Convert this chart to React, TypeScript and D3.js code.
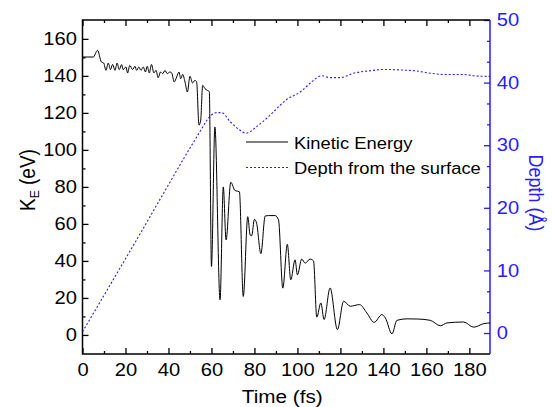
import React, { useEffect, useRef } from 'react';
import * as d3 from 'd3';

// kinetic energy (eV) vs time (fs)
const keTime = [0, 5, 7, 8.8, 9.9, 10.9, 12.0, 13.0, 14.0, 15.1, 16.1, 17.1, 18.2, 18.9, 20.2, 21.0, 22.0, 23.3, 24.4, 25.2,
  26.2, 27.2, 28.3, 29.3, 30.1, 31.1, 32.1, 33.2, 34.2, 35.2, 36.3, 37.3, 38.4, 39.4, 40.7, 41.5, 42.7, 43.8, 44.9, 45.7,
  46.6, 47.7, 48.8, 50.0, 51.2, 52.3, 53.1, 54.2, 55.0, 55.9, 57.0, 58.1, 59.0, 60.0, 61.6, 64.0, 65.5, 66.8, 69.0, 71.0,
  73.0, 74.8, 76.9, 78.0, 78.7, 80.0, 81.0, 83.0, 85.0, 86.5, 89.6, 91.2, 93.2, 95.3, 96.9, 98.9, 100.0, 102.0, 103.6, 105.9,
  107.5, 109.0, 110.9, 112.4, 115.2, 118.6, 121.5, 124.6, 128.9, 132.3, 135.7, 139.3, 140.9, 144.0, 146.3, 151.0, 156.0, 161.8, 166.5, 169.6,
  177.3, 182.0, 186.7, 190];
const keValue = [150.2, 150.2, 153.8, 147.5, 146.9, 143.0, 146.9, 143.4, 146.2, 143.0, 146.9, 143.4, 146.1, 143.4, 144.8, 141.6, 145.7, 143.4, 145.2, 143.0,
  144.8, 143.0, 144.8, 142.1, 145.2, 141.6, 146.2, 141.6, 143.0, 139.0, 142.1, 141.2, 143.0, 141.2, 142.1, 141.6, 136.7, 139.4, 142.1, 138.5,
  140.8, 136.7, 131.3, 139.8, 136.2, 137.6, 136.7, 113.4, 116.1, 134.9, 133.1, 132.2, 131.5, 37, 112.4, 19, 80, 51.4, 82.5, 78,
  77.4, 20.8, 63.9, 54, 53.6, 62.5, 60.4, 43.9, 64.3, 64.5, 64.5, 62.2, 25.3, 49, 29.8, 40.6, 32.5, 41, 38.8, 41,
  40, 9.6, 17.3, 8.3, 25.4, 2.9, 18.2, 15.5, 16.4, 11.9, 6.8, 11, 9.2, 0.6, 7.9, 8.7, 8.6, 7.9, 5, 6.5,
  7, 4.2, 6.1, 6.5];

// depth from the surface (Å) vs time (fs)
const depthTime = [0, 25.2, 50.8, 54.7, 59.3, 62.4, 64.8, 68.6, 73.3, 76.1, 81.1, 87.3, 92.0, 95.0, 101.3,
  105.9, 111.4, 115.2, 119.9, 126.1, 133.9, 140.1, 149.4, 155.6, 161.8, 168.0, 177.3, 182.0, 188.3, 190];
const depthValue = [0.2, 14.9, 30.0, 32.2, 34.6, 35.2, 35.2, 33.8, 32.4, 31.9, 33.0, 34.8, 36.4, 37.3, 38.5,
  39.9, 41.1, 40.8, 40.8, 41.5, 41.9, 42.1, 42.0, 41.85, 41.5, 41.3, 41.3, 41.1, 41.0, 41.0];

const timeTicks = [0, 20, 40, 60, 80, 100, 120, 140, 160, 180];
const keTicks = [0, 20, 40, 60, 80, 100, 120, 140, 160];
const depthTicks = [0, 10, 20, 30, 40, 50];

const legendLabels = ['Kinetic Energy', 'Depth from the surface'];

const BLUE = '#2a1cff';
const FONT = '"Liberation Sans", Arial, sans-serif';
const STRETCH = 'scale(1.12,1)';

const App = () => {
  const svgRef = useRef<SVGSVGElement>(null);

  useEffect(() => {
    const width = 553;
    const height = 407;
    const svg = d3.select(svgRef.current);
    svg.selectAll('*').remove();

    const margin = { top: 20, right: 63, bottom: 53, left: 82.5 };
    const innerWidth = width - margin.left - margin.right;
    const innerHeight = height - margin.top - margin.bottom;

    const g = svg.append('g').attr('transform', `translate(${margin.left},${margin.top})`);

    const x = d3.scaleLinear().domain([0, 189.6]).range([0, innerWidth]);
    const yKE = d3.scaleLinear().domain([-10.3, 170.2]).range([innerHeight, 0]);
    const yDepth = d3.scaleLinear().domain([-3.35, 50]).range([innerHeight, 0]);

    const timeMinor = timeTicks.map(t => t + 10).filter(t => t < 189);
    const keMinor = keTicks.map(v => v + 10).filter(v => v < 170);
    const depthMinor: number[] = [];
    depthTicks.slice(0, -1).forEach(v => { depthMinor.push(v + 10 / 3, v + 20 / 3); });

    const styleAxis = (sel: any, color: string) => {
      sel.select('.domain').remove();
      sel.selectAll('line').attr('stroke', color).attr('stroke-width', 1.3);
      sel.selectAll('text')
        .attr('font-family', FONT)
        .attr('font-size', 18)
        .attr('fill', color)
        .attr('transform', STRETCH);
    };

    // bottom axis
    g.append('g').attr('transform', `translate(0,${innerHeight})`)
      .call(d3.axisBottom(x).tickValues(timeTicks).tickSize(-6).tickPadding(9).tickFormat(d3.format('d')))
      .call(s => styleAxis(s, '#000'));
    g.append('g').attr('transform', `translate(0,${innerHeight})`)
      .call(d3.axisBottom(x).tickValues(timeMinor).tickSize(-3).tickFormat(() => ''))
      .call(s => styleAxis(s, '#000'));
    // top mirror ticks
    g.append('g')
      .call(d3.axisTop(x).tickValues(timeTicks).tickSize(-6).tickFormat(() => ''))
      .call(s => styleAxis(s, '#000'));
    g.append('g')
      .call(d3.axisTop(x).tickValues(timeMinor).tickSize(-3).tickFormat(() => ''))
      .call(s => styleAxis(s, '#000'));

    // left axis
    g.append('g')
      .call(d3.axisLeft(yKE).tickValues(keTicks).tickSize(-6).tickPadding(5).tickFormat(d3.format('d')))
      .call(s => styleAxis(s, '#000'));
    g.append('g')
      .call(d3.axisLeft(yKE).tickValues(keMinor).tickSize(-3).tickFormat(() => ''))
      .call(s => styleAxis(s, '#000'));

    // right axis
    g.append('g').attr('transform', `translate(${innerWidth},0)`)
      .call(d3.axisRight(yDepth).tickValues(depthTicks).tickSize(-6).tickPadding(6).tickFormat(d3.format('d')))
      .call(s => styleAxis(s, BLUE));
    g.append('g').attr('transform', `translate(${innerWidth},0)`)
      .call(d3.axisRight(yDepth).tickValues(depthMinor).tickSize(-3).tickFormat(() => ''))
      .call(s => styleAxis(s, BLUE));

    // frame
    g.append('path')
      .attr('d', `M${innerWidth},0H0V${innerHeight}H${innerWidth}`)
      .attr('fill', 'none').attr('stroke', '#000').attr('stroke-width', 1.5);
    g.append('line')
      .attr('x1', innerWidth).attr('x2', innerWidth).attr('y1', 0).attr('y2', innerHeight)
      .attr('stroke', BLUE).attr('stroke-width', 1.5);

    svg.append('defs').append('clipPath').attr('id', 'plot-clip')
      .append('rect').attr('width', innerWidth).attr('height', innerHeight);

    const keLine = d3.line<number>()
      .x((_, i) => x(keTime[i]))
      .y(d => yKE(d))
      .curve(d3.curveMonotoneX);
    const depthLine = d3.line<number>()
      .x((_, i) => x(depthTime[i]))
      .y(d => yDepth(d))
      .curve(d3.curveMonotoneX);

    const plot = g.append('g').attr('clip-path', 'url(#plot-clip)');
    plot.append('path')
      .datum(depthValue)
      .attr('d', depthLine)
      .attr('fill', 'none')
      .attr('stroke', BLUE)
      .attr('stroke-width', 1.1)
      .attr('stroke-dasharray', '2,2');
    plot.append('path')
      .datum(keValue)
      .attr('d', keLine)
      .attr('fill', 'none')
      .attr('stroke', '#000')
      .attr('stroke-width', 1);

    // legend
    const legend = svg.append('g').attr('transform', 'translate(246,142)');
    legendLabels.forEach((label, i) => {
      const row = legend.append('g').attr('transform', `translate(0,${i * 25.5})`);
      row.append('line')
        .attr('x1', 0).attr('x2', 42).attr('y1', 0).attr('y2', 0)
        .attr('stroke', i === 0 ? '#000' : BLUE)
        .attr('stroke-width', i === 0 ? 1 : 1.1)
        .attr('stroke-dasharray', i === 0 ? null : '2,2');
      row.append('text')
        .attr('transform', `translate(48,6.5) ${STRETCH}`)
        .attr('font-family', FONT)
        .attr('font-size', 16.4)
        .text(label);
    });

    // axis titles
    svg.append('text')
      .attr('transform', `translate(${margin.left + innerWidth / 2 - 4},403) ${STRETCH}`)
      .attr('text-anchor', 'middle')
      .attr('font-family', FONT)
      .attr('font-size', 18.5)
      .text('Time (fs)');

    const keLabel = svg.append('text')
      .attr('transform', `translate(35,180) ${STRETCH} rotate(-90)`)
      .attr('text-anchor', 'middle')
      .attr('font-family', FONT)
      .attr('font-size', 19);
    keLabel.append('tspan').text('K');
    keLabel.append('tspan').attr('font-size', 12).attr('dy', 4).text('E');
    keLabel.append('tspan').attr('dy', -4).text(' (eV)');

    svg.append('text')
      .attr('transform', `translate(529,193) ${STRETCH} rotate(90)`)
      .attr('text-anchor', 'middle')
      .attr('font-family', FONT)
      .attr('font-size', 18)
      .attr('fill', BLUE)
      .text('Depth (Å)');
  }, []);

  return (
    <div style={{ position: 'absolute', left: 0, top: 0 }}>
      <svg ref={svgRef} width={553} height={407} style={{ display: 'block', background: '#fff' }}></svg>
    </div>
  );
};

export default App;
